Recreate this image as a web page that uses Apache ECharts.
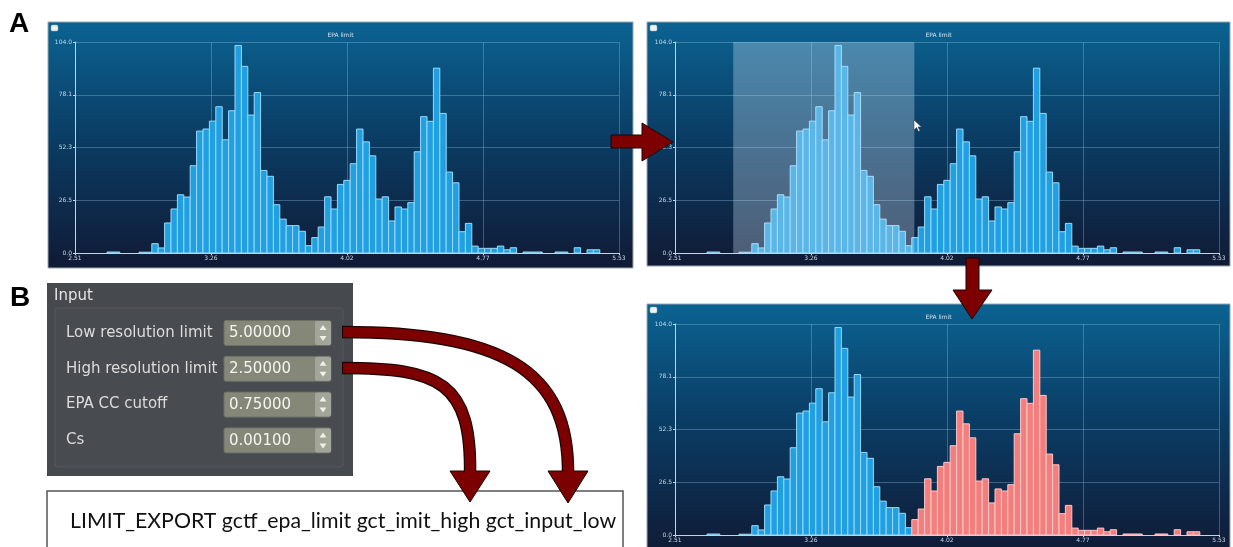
<!DOCTYPE html>
<html><head><meta charset="utf-8">
<script src="https://cdn.jsdelivr.net/npm/echarts@6/dist/echarts.min.js"></script>
<style>html,body{margin:0;padding:0;background:#fff}#c{width:1233px;height:547px}</style>
</head><body><div id="c"></div>
<script>
// ---- data ----
const counts = [0,0,0,0,0,0.5,0.5,0,0,0,0.4,0.4,4.6,2.5,14.8,21.7,28.7,27.6,43,60.1,61.1,65,72.1,55.8,70.1,102.3,92,68,79.1,40.7,37.8,23.8,16.7,13.5,13.5,10.7,3.6,7.6,12.8,27.7,21.7,33.8,35.8,44,61.1,54.8,47.9,26.6,27.7,15.8,22.7,21.7,24.8,49.9,67.2,64.9,91.1,68.8,39.9,34.6,10.5,14.6,3.4,2.3,2.3,2.3,3.4,1.6,2.6,0,0.5,0.5,0.5,0,0,0.5,0.5,0,2.6,0,1.6,1.6,0,0,0];
const xTickLabels = ['2.51','3.26','4.02','4.77','5.53'];
const yTickLabels = ['0.0','26.5','52.3','78.1','104.0'];
const yMax = 104;
const selectionBins = [9.1, 37.4];   // highlighted range in panel 2 (bin positions)
const splitBin = 37;                 // first bin drawn red in panel 3
const panelTitle = 'EPA limit';
const inputLabels = ['Low resolution limit','High resolution limit','EPA CC cutoff','Cs'];
const inputValues = ['5.00000','2.50000','0.75000','0.00100'];
const commandText = 'LIMIT_EXPORT gctf_epa_limit gct_imit_high gct_input_low';

// ---- layout ----
const panels = [
  {x:48, y:22, w:585, h:246, grid:{left:75, top:42}},
  {x:647, y:22, w:583, h:244, grid:{left:675, top:42}},
  {x:647, y:304, w:583, h:250, grid:{left:675, top:324}}
];
const PW = 544, PH = 211;
const nb = counts.length;
const BLUE = {fill:'#20a0e0', stroke:'#9ad9f8'};
const RED = {fill:'#f27e7e', stroke:'#ffc8c8'};
const font = 'DejaVu Sans';

const grids = panels.map(p => ({left:p.grid.left, top:p.grid.top, width:PW, height:PH, containLabel:false}));
const axisCol = '#c4d4e4';
const xAxes = panels.map((p,k) => ({
  gridIndex:k, type:'value', min:0, max:nb, interval:nb/4,
  axisLine:{show:true, lineStyle:{color:axisCol, width:1}},
  axisTick:{show:true, length:2, lineStyle:{color:axisCol}},
  splitLine:{show:true, lineStyle:{color:'rgba(150,195,225,0.35)', width:1}},
  axisLabel:{fontSize:6, color:'#c8d6e4', margin:2, fontFamily:font,
    formatter:v => xTickLabels[Math.round(v/(nb/4))]}
}));
const yAxes = panels.map((p,k) => ({
  gridIndex:k, type:'value', min:0, max:yMax, interval:yMax/4,
  axisLine:{show:true, lineStyle:{color:axisCol, width:1}},
  axisTick:{show:true, length:2, lineStyle:{color:axisCol}},
  splitLine:{show:true, lineStyle:{color:'rgba(150,195,225,0.35)', width:1}},
  axisLabel:{fontSize:6, color:'#c8d6e4', margin:3, fontFamily:font,
    formatter:v => yTickLabels[Math.round(v/(yMax/4))]}
}));

function barRenderer(colorOf){
  return function(params, api){
    const i = api.value(0), v = api.value(1);
    if (!(v > 0)) return null;
    const a = api.coord([i, 0]), b = api.coord([i+1, v]);
    const c = colorOf(i);
    return {type:'rect', shape:{x:a[0], y:b[1], width:b[0]-a[0], height:a[1]-b[1]},
      style:{fill:c.fill, stroke:c.stroke, lineWidth:1}};
  };
}
const barData = counts.map((v,i) => [i, v]);
const series = [
  {type:'custom', xAxisIndex:0, yAxisIndex:0, data:barData, renderItem:barRenderer(()=>BLUE), z:3},
  {type:'custom', xAxisIndex:1, yAxisIndex:1, data:barData, renderItem:barRenderer(()=>BLUE), z:3},
  {type:'custom', xAxisIndex:1, yAxisIndex:1, data:[[selectionBins[0], selectionBins[1]]], z:6,
    encode:{x:[0,1]},
    renderItem:function(params, api){
      const a = api.coord([api.value(0), yMax]), b = api.coord([api.value(1), 0]);
      return {type:'rect', shape:{x:a[0], y:a[1], width:b[0]-a[0], height:b[1]-a[1]},
        style:{fill:'rgba(205,228,245,0.33)'}};
    }},
  {type:'custom', xAxisIndex:2, yAxisIndex:2, data:barData, renderItem:barRenderer(i => i >= splitBin ? RED : BLUE), z:3}
];

// ---- graphics ----
const g = [];
panels.forEach(p => {
  g.push({type:'rect', z:-10, shape:{x:p.x, y:p.y, width:p.w, height:p.h},
    style:{fill:new echarts.graphic.LinearGradient(0,0,0,1,[
      {offset:0,color:'#0b6392'},{offset:0.45,color:'#0a3e66'},{offset:1,color:'#101a35'}]),
      stroke:'#9aa6b0', lineWidth:1}});
  g.push({type:'rect', z:-9, shape:{x:p.x+3, y:p.y+3, width:7, height:6, r:1.5},
    style:{fill:'#eef2f5', stroke:'#9aa', lineWidth:0.5}});
  g.push({type:'text', z:-9, style:{text:panelTitle, x:p.x+p.w/2, y:p.y+13, textAlign:'center', textVerticalAlign:'middle',
    fontSize:6, fontFamily:font, fill:'#d4e0ec'}});
});
// cursor
g.push({type:'polygon', z:60, shape:{points:[[914,120],[914,130],[916.5,127.5],[918.5,131.5],[920,130.8],[918,127],[921.5,127]]},
  style:{fill:'#ffffff', stroke:'#333', lineWidth:0.5}});

// panel labels
g.push({type:'text', z:60, style:{text:'A', x:9, y:24, textVerticalAlign:'middle', fontSize:28, fontWeight:'bold', fontFamily:'Liberation Sans', fill:'#000'}});
g.push({type:'text', z:60, style:{text:'B', x:10, y:298, textVerticalAlign:'middle', fontSize:28, fontWeight:'bold', fontFamily:'Liberation Sans', fill:'#000'}});

// input panel
g.push({type:'rect', z:1, shape:{x:47, y:283, width:306, height:193}, style:{fill:'#46494e'}});
g.push({type:'text', z:2, style:{text:'Input', x:54, y:296, textVerticalAlign:'middle', fontSize:15, fontFamily:font, fill:'#e4e4e4'}});
g.push({type:'rect', z:1, shape:{x:55, y:308, width:288, height:159, r:3}, style:{fill:'#484b50', stroke:'#56595f', lineWidth:1}});
inputLabels.forEach((lab, k) => {
  const cy = 333 + k*35.8;
  g.push({type:'text', z:2, style:{text:lab, x:66, y:cy, textVerticalAlign:'middle', fontSize:15, fontFamily:font, fill:'#dcdcdc'}});
  g.push({type:'rect', z:2, shape:{x:224, y:cy-12.5, width:107, height:25, r:2}, style:{fill:'#858879', stroke:'#6c6f66', lineWidth:1}});
  g.push({type:'rect', z:3, shape:{x:315, y:cy-12, width:16, height:24, r:2}, style:{fill:'#a2a59a'}});
  g.push({type:'polygon', z:4, shape:{points:[[319.5,cy-3],[323,cy-8],[326.5,cy-3]]}, style:{fill:'#f0f0ea'}});
  g.push({type:'polygon', z:4, shape:{points:[[319.5,cy+3],[323,cy+8],[326.5,cy+3]]}, style:{fill:'#f0f0ea'}});
  g.push({type:'text', z:4, style:{text:inputValues[k], x:229, y:cy+0.5, textVerticalAlign:'middle', fontSize:15, fontFamily:font, fill:'#f4f4f0'}});
});

// command box
g.push({type:'rect', z:1, shape:{x:47, y:491, width:576, height:70}, style:{fill:'#ffffff', stroke:'#555', lineWidth:1.5}});
g.push({type:'text', z:2, style:{text:commandText, x:70, y:521, textVerticalAlign:'middle', fontSize:21.3, fontFamily:'Lato', fill:'#111'}});

// arrows
const AR = '#7d0000', AK = '#1a0505';
g.push({type:'polygon', z:60, shape:{points:[[611,135],[642,135],[642,123],[673,142],[642,161],[642,148],[611,148]]},
  style:{fill:AR, stroke:AK, lineWidth:1}});
g.push({type:'polygon', z:60, shape:{points:[[966,258],[979,258],[979,290],[992,290],[972,319],[953,290],[966,290]]},
  style:{fill:AR, stroke:AK, lineWidth:1}});
const curves = [
  {s:[342,332], c1:[500,332], c2:[570,368], e:[568,476], head:[[548,471],[588,471],[568,503]]},
  {s:[342,368], c1:[440,368], c2:[472,382], e:[470,476], head:[[450,471],[490,471],[470,502]]}
];
curves.forEach(c => {
  const shape = {x1:c.s[0], y1:c.s[1], cpx1:c.c1[0], cpy1:c.c1[1], cpx2:c.c2[0], cpy2:c.c2[1], x2:c.e[0], y2:c.e[1]};
  g.push({type:'bezierCurve', z:60, shape:shape, style:{stroke:AK, lineWidth:12.5, fill:null}});
  g.push({type:'polygon', z:61, shape:{points:c.head}, style:{fill:AR, stroke:AK, lineWidth:1}});
  g.push({type:'bezierCurve', z:62, shape:Object.assign({}, shape, {x1:c.s[0]+1}), style:{stroke:AR, lineWidth:10, fill:null}});
});

const chart = echarts.init(document.getElementById('c'), null, {renderer:'canvas', width:1233, height:547});
chart.setOption({
  animation:false,
  backgroundColor:'#ffffff',
  grid:grids, xAxis:xAxes, yAxis:yAxes, series:series,
  graphic:{elements:g}
});
</script></body></html>
